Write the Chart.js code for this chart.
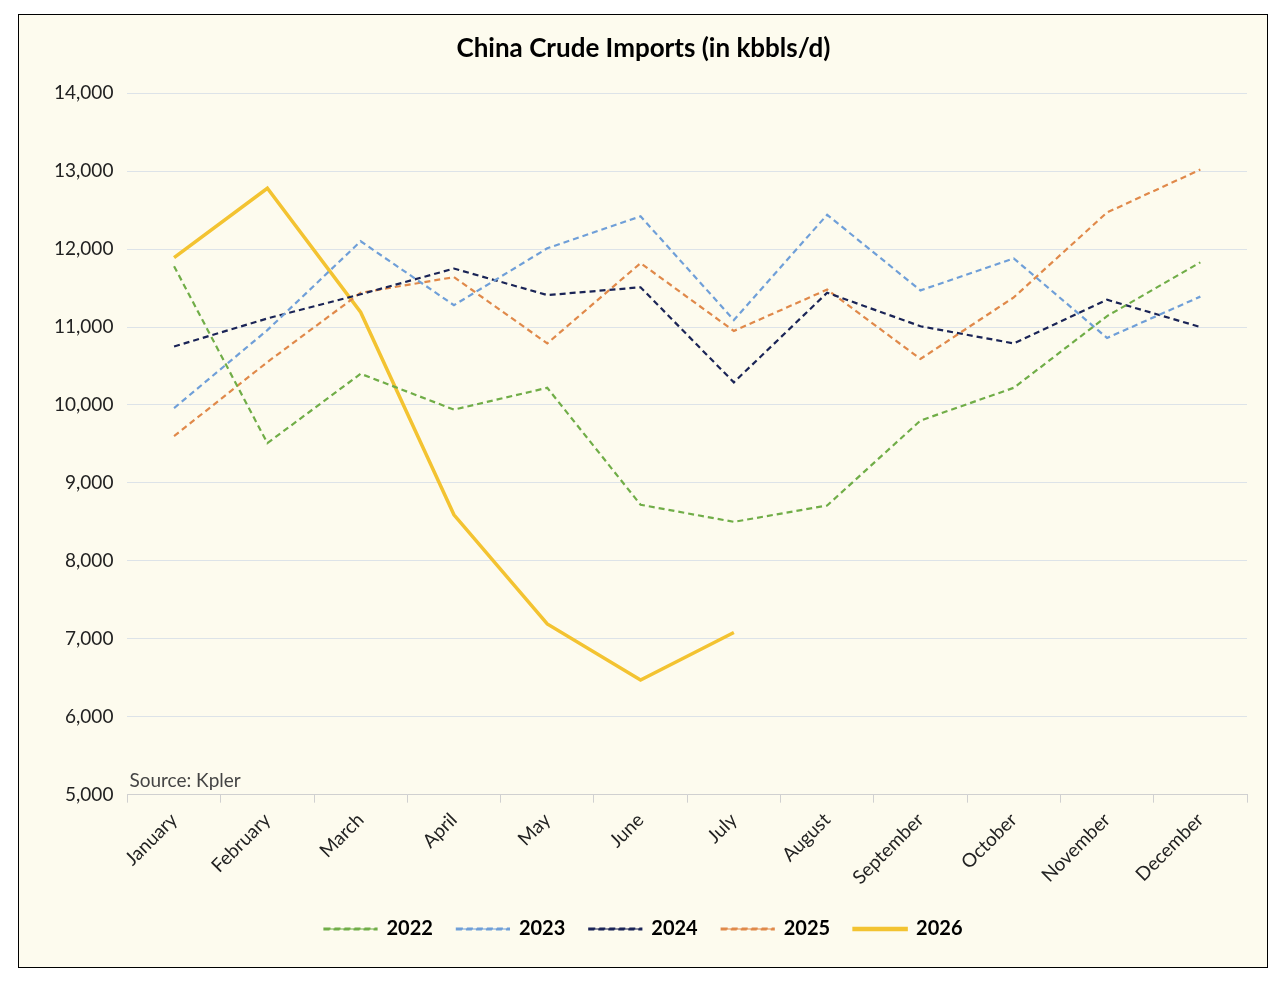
<!DOCTYPE html>
<html><head><meta charset="utf-8">
<script src="https://cdn.jsdelivr.net/npm/chart.js@4"></script>
<style>
html,body{margin:0;padding:0;background:#fff;}
#box{position:absolute;left:18px;top:14px;width:1248px;height:952px;border:1.5px solid #000;background:#fdfbee;}
#c{display:block;}
</style></head><body>
<div id="box"><canvas id="c" width="1248" height="952"></canvas></div>
<script>
const months = ["January","February","March","April","May","June","July","August","September","October","November","December"];
const y2022 = [11780,9510,10400,9940,10220,8720,8500,8710,9800,10220,11140,11830];
const y2023 = [9960,10960,12100,11280,12010,12420,11090,12440,11470,11880,10860,11390];
const y2024 = [10750,11110,11420,11750,11410,11510,10290,11440,11010,10790,11350,11000];
const y2025 = [9600,10550,11440,11640,10790,11820,10950,11480,10590,11380,12470,13020];
const y2026 = [11890,12780,11190,8590,7190,6470,7080];
const FONT = "Lato, 'Open Sans', sans-serif";
function ds(label, data, color, dash, width){
  return {label, data, borderColor:color, backgroundColor:color, borderDash:dash, borderWidth:width,
    pointRadius:0, tension:0, fill:false};
}
const sourcePlugin = {id:'src', afterDatasetsDraw(ch){
  const c=ch.ctx, a=ch.chartArea; c.save(); c.font="19px "+FONT; c.fillStyle="#444";
  c.textBaseline='bottom'; c.fillText("Source: Kpler", a.left+2, a.bottom-4); c.restore();}};
new Chart(document.getElementById('c'), {
  type:'line',
  data:{labels:months, datasets:[
    ds('2022', y2022, '#70ad47', [6,4], 2.2),
    ds('2023', y2023, '#6f9fd8', [6,4], 2.2),
    ds('2024', y2024, '#1a2456', [6,4], 2.2),
    ds('2025', y2025, '#e0894a', [6,4], 2.2),
    ds('2026', y2026, '#f3c331', [], 3.5)
  ]},
  options:{responsive:false, animation:false,
    layout:{padding:{left:21,right:20,top:10,bottom:18}},
    plugins:{
      title:{display:true, text:'China Crude Imports (in kbbls/d)', color:'#000', font:{family:FONT,size:26,weight:'bold'}, padding:{top:8,bottom:29}},
      legend:{position:'bottom', labels:{boxWidth:52, boxHeight:1, color:'#000', font:{family:FONT,size:20,weight:'bold'}, padding:24}},
      tooltip:{enabled:false}
    },
    scales:{
      y:{min:5000, max:14000, ticks:{stepSize:1000, color:'#222', font:{family:FONT,size:19}, padding:14},
        grid:{color:'#dde3e8', drawTicks:false}, border:{display:false}},
      x:{offset:true, ticks:{color:'#222', font:{family:FONT,size:19}, maxRotation:45, minRotation:45, padding:6},
        grid:{offset:true, drawOnChartArea:false, color:'#d0d0d0', tickLength:8}, border:{color:'#d0d0d0'}}
    }
  },
  plugins:[sourcePlugin]
});
</script></body></html>
